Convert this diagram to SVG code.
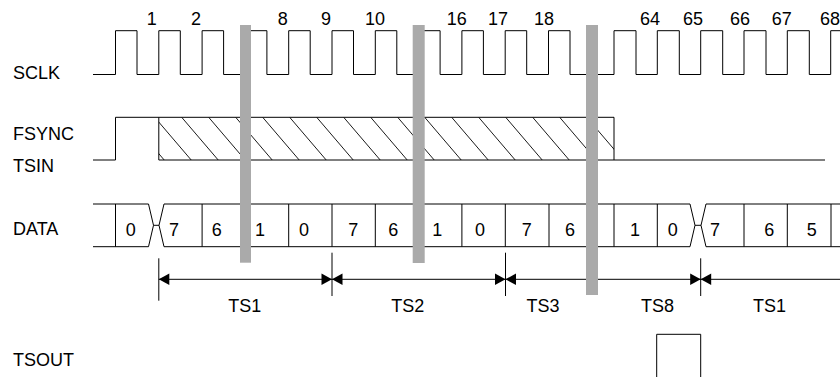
<svg xmlns="http://www.w3.org/2000/svg" width="840" height="377" viewBox="0 0 840 377">
<style>
text{font-family:"Liberation Sans",Arial,sans-serif;font-size:18px;fill:#000}
.m{text-anchor:middle}
.w{fill:none;stroke:#000;stroke-width:1}
.h{fill:none;stroke:#000;stroke-width:0.9}
.bar{fill:#aaaaaa}
.ah{fill:#000}
</style>
<defs>
<clipPath id="hc"><rect x="158.8" y="117.3" width="455.2" height="42.7"/></clipPath>
</defs>
<rect width="840" height="377" fill="#fff"/>
<g id="labels">
<text x="13" y="79">SCLK</text>
<text x="13" y="140">FSYNC</text>
<text x="13" y="172">TSIN</text>
<text x="13" y="235">DATA</text>
<text x="13" y="366">TSOUT</text>
</g>
<g id="clock-numbers">
<text class="m" x="151.7" y="25">1</text>
<text class="m" x="196" y="25">2</text>
<text class="m" x="282.7" y="25">8</text>
<text class="m" x="326" y="25">9</text>
<text class="m" x="375" y="25">10</text>
<text class="m" x="456.7" y="25">16</text>
<text class="m" x="498" y="25">17</text>
<text class="m" x="544" y="25">18</text>
<text class="m" x="650" y="25">64</text>
<text class="m" x="693" y="25">65</text>
<text class="m" x="740" y="25">66</text>
<text class="m" x="781.7" y="25">67</text>
<text class="m" x="830" y="25">68</text>
</g>
<g id="sclk">
<path class="w" d="M93,74.5 H115.5 V30.7 H137 V74.5 H158.8 V30.7 H180.3 V74.5 H202.1 V30.7 H223.6 V74.5 H245.4 V30.7 H266.9 V74.5 H288.7 V30.7 H310.2 V74.5 H332 V30.7 H353.5 V74.5 H375.3 V30.7 H396.8 V74.5 H418.6 V30.7 H440.1 V74.5 H461.9 V30.7 H483.4 V74.5 H505.2 V30.7 H526.7 V74.5 H548.5 V30.7 H570 V74.5 H614 V30.7 H636 V74.5 H657.3 V30.7 H679.3 V74.5 H700.7 V30.7 H722.7 V74.5 H744 V30.7 H766 V74.5 H787.3 V30.7 H809.3 V74.5 H830.7 V30.7 H841"/>
</g>
<g id="fsync-tsin">
<path class="w" d="M93,160 H115.5 V117.3 H614 V160 M158.8,117.3 V160 H825"/>
<path class="h" clip-path="url(#hc)" d="M127.7,117.3 l36.5,42.7 M154.7,117.3 l36.5,42.7 M181.7,117.3 l36.5,42.7 M208.7,117.3 l36.5,42.7 M235.7,117.3 l36.5,42.7 M262.7,117.3 l36.5,42.7 M289.7,117.3 l36.5,42.7 M316.7,117.3 l36.5,42.7 M343.7,117.3 l36.5,42.7 M370.7,117.3 l36.5,42.7 M397.7,117.3 l36.5,42.7 M424.7,117.3 l36.5,42.7 M451.7,117.3 l36.5,42.7 M478.7,117.3 l36.5,42.7 M505.7,117.3 l36.5,42.7 M532.7,117.3 l36.5,42.7 M559.7,117.3 l36.5,42.7 M586.7,117.3 l36.5,42.7 M613.7,117.3 l36.5,42.7"/>
</g>
<g id="data">
<path class="w" d="M93,204 H148.5 L153.5,225.3 L148.5,246.7 H93 M153.5,225.3 H159 M164,204 L159,225.3 L164,246.7 H690 L695,225.3 L690,204 Z M695,225.3 H701 M841,204 H706 L701,225.3 L706,246.7 H841"/>
<path class="w" d="M115.5,204 V246.7 M202.1,204 V246.7 M288.7,204 V246.7 M332,204 V246.7 M375.3,204 V246.7 M461.9,204 V246.7 M505.3,204 V246.7 M549,204 V246.7 M614,204 V246.7 M657.3,204 V246.7 M744,204 V246.7 M787.3,204 V246.7 M831,204 V246.7"/>
<text class="m" x="130.7" y="236">0</text>
<text class="m" x="174" y="236">7</text>
<text class="m" x="216.7" y="236">6</text>
<text class="m" x="260" y="236">1</text>
<text class="m" x="304" y="236">0</text>
<text class="m" x="353.3" y="236">7</text>
<text class="m" x="393.3" y="236">6</text>
<text class="m" x="437.3" y="236">1</text>
<text class="m" x="480" y="236">0</text>
<text class="m" x="526.7" y="236">7</text>
<text class="m" x="570" y="236">6</text>
<text class="m" x="635" y="236">1</text>
<text class="m" x="672.7" y="236">0</text>
<text class="m" x="715" y="236">7</text>
<text class="m" x="769.3" y="236">6</text>
<text class="m" x="811.7" y="236">5</text>
</g>
<g id="tsout">
<path class="w" d="M656.7,378 V334.3 H700.7 V378"/>
</g>
<g id="connectors">
<path class="w" d="M158.8,279.3 H841 M158.8,258.3 V300.7 M332,252.7 V296 M505.5,252.7 V296 M700.7,258.3 V296"/>
<polygon class="ah" points="158.8,279.3 169.3,273.6 169.3,285"/>
<polygon class="ah" points="332,279.3 321.5,273.6 321.5,285"/>
<polygon class="ah" points="332,279.3 342.5,273.6 342.5,285"/>
<polygon class="ah" points="505.5,279.3 495,273.6 495,285"/>
<polygon class="ah" points="505.5,279.3 516,273.6 516,285"/>
<polygon class="ah" points="700.7,279.3 690.2,273.6 690.2,285"/>
<polygon class="ah" points="700.7,279.3 711.2,273.6 711.2,285"/>
</g>
<g id="slot-labels">
<text class="m" x="244.7" y="311.7">TS1</text>
<text class="m" x="407.8" y="311.7">TS2</text>
<text class="m" x="543" y="311.7">TS3</text>
<text class="m" x="657.5" y="311.7">TS8</text>
<text class="m" x="769.5" y="311.7">TS1</text>
</g>
<g id="breaks">
<rect class="bar" x="240" y="25" width="11" height="237.7"/>
<rect class="bar" x="412.7" y="25" width="12" height="238"/>
<rect class="bar" x="586" y="25" width="12" height="270"/>
</g>
</svg>
